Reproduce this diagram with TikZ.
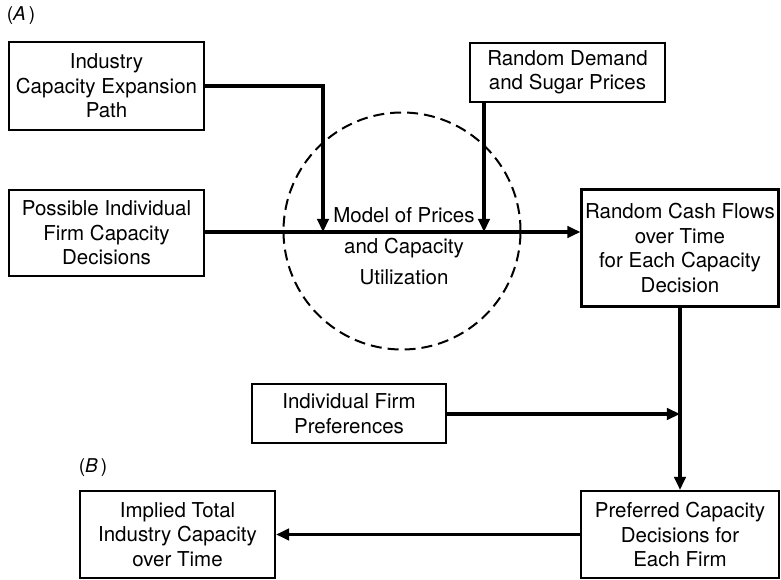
\documentclass[tikz,border=0pt]{standalone}
\usepackage{fontspec}
\setmainfont{TeX Gyre Heros}
\usepackage{tikz}
\usetikzlibrary{arrows.meta,positioning}
\tikzset{
  ar/.style={-{Triangle[length=4.6mm,width=4mm]},line width=3.2pt},
  box/.style={draw,line width=2.1pt,align=center,inner sep=2pt,font=\fontsize{20.5}{24.5}\selectfont},
  lbl/.style={font=\fontsize{19}{20}\selectfont}
}
\begin{document}
\begin{tikzpicture}[x=1pt,y=-1pt]
\useasboundingbox (0,0) rectangle (781,580);
\node[lbl] (labA) at (21,16) {(\textit{A}\,)};
\node[lbl] (labB) at (93,468) {(\textit{B}\,)};
\node[box,minimum width=195pt,minimum height=88pt] (expan) at (106.5,86) {Industry\\Capacity Expansion\\Path};
\node[box,minimum width=195pt,minimum height=86pt] (possib) at (106.5,233) {Possible Individual\\Firm Capacity\\Decisions};
\node[box,minimum width=195pt,minimum height=59pt] (demand) at (567.5,72.5) {Random Demand\\and Sugar Prices};
\node[draw,circle,dashed,dash pattern=on 11pt off 6pt,line width=2pt,minimum size=237pt] (model) at (402,231) {};
\node[align=center,font=\fontsize{20.5}{31}\selectfont] (modeltxt) at (404,246) {Model of Prices\\and Capacity\\Utilization};
\node[box,minimum width=197pt,minimum height=117pt] (cash) at (680,248) {Random Cash Flows\\over Time\\for Each Capacity\\Decision};
\node[box,minimum width=194pt,minimum height=59pt] (prefs) at (349,413.5) {Individual Firm\\Preferences};
\node[box,minimum width=198pt,minimum height=87pt] (prefd) at (680,534.5) {Preferred Capacity\\Decisions for\\Each Firm};
\node[box,minimum width=195pt,minimum height=87pt] (impl) at (177.5,534.5) {Implied Total\\Industry Capacity\\over Time};
\coordinate (j1) at (323,232);
\coordinate (j2) at (484,232);
\coordinate (j3) at (680,414);
\draw[ar] (possib.east |- j1) -- (j1 -| cash.west);
\draw[ar] (expan.east) -| (j1);
\draw[ar] (demand.south -| j2) -- (j2);
\draw[ar] (cash.south) -- (prefd.north);
\draw[ar] (prefs.east |- j3) -- (j3);
\draw[ar] (prefd.west) -- (impl.east);
\end{tikzpicture}
\end{document}
